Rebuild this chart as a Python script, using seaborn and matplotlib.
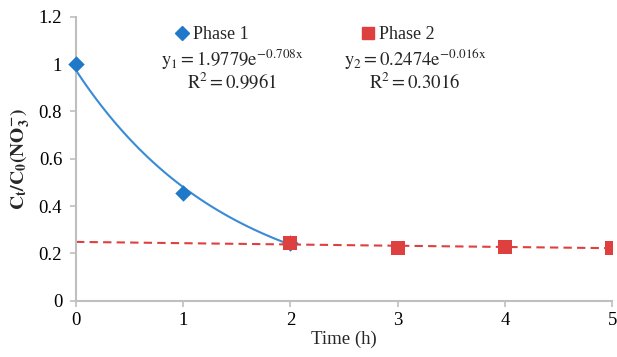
import numpy as np
import pandas as pd
import matplotlib
matplotlib.use("Agg")
import matplotlib.pyplot as plt
from matplotlib.lines import Line2D
import seaborn as sns

# ---- data ----
phase1_time = [0, 1, 2]
phase1_ratio = [1.0, 0.455, 0.243]
phase2_time = [2, 3, 4, 5]
phase2_ratio = [0.243, 0.224, 0.228, 0.224]
eq1_text = r"$\mathrm{y_1 = 1.9779e^{-0.708x}}$"
r2_1_text = r"$\mathrm{R^2 = 0.9961}$"
eq2_text = r"$\mathrm{y_2 = 0.2474e^{-0.016x}}$"
r2_2_text = r"$\mathrm{R^2 = 0.3016}$"
x_ticks = [0, 1, 2, 3, 4, 5]
y_ticks = [0, 0.2, 0.4, 0.6, 0.8, 1.0, 1.2]
y_tick_labels = ["0", "0.2", "0.4", "0.6", "0.8", "1", "1.2"]

sns.set_style("ticks")
plt.rcParams["font.family"] = ["Liberation Serif", "DejaVu Serif"]
plt.rcParams["mathtext.fontset"] = "stix"

blue = "#1F78C8"
blue_line = "#3A8AD6"
red = "#DE4040"
axis_grey = "#BFBFBF"

fig = plt.figure(figsize=(6.17, 3.57), dpi=100)
ax = fig.add_axes([0.1232, 0.1577, 0.992 - 0.1232, 0.953 - 0.1577])

# exponential trendlines fitted from the data
c1 = np.polyfit(phase1_time, np.log(phase1_ratio), 1)
c2 = np.polyfit(phase2_time, np.log(phase2_ratio), 1)
x1 = np.linspace(0, 2, 100)
x2 = np.linspace(0, 5, 200)
trend1 = pd.DataFrame({"t": x1, "y": np.exp(np.polyval(c1, x1))})
trend2 = pd.DataFrame({"t": x2, "y": np.exp(np.polyval(c2, x2))})

sns.lineplot(data=trend1, x="t", y="y", ax=ax, color=blue_line, lw=1.5)
sns.lineplot(data=trend2, x="t", y="y", ax=ax, color=red, lw=1.5,
             linestyle=(0, (4, 2.5)))

d1 = pd.DataFrame({"t": phase1_time, "y": phase1_ratio})
d2 = pd.DataFrame({"t": phase2_time, "y": phase2_ratio})
sns.scatterplot(data=d1, x="t", y="y", ax=ax, marker="D", s=70, color=blue,
                edgecolor=blue, linewidth=0, zorder=5, clip_on=False)
sns.scatterplot(data=d2, x="t", y="y", ax=ax, marker="s", s=90, color=red,
                edgecolor=red, linewidth=0, zorder=5, clip_on=True)

ax.set_xlim(0, 5)
ax.set_ylim(0, 1.2)
ax.set_xticks(x_ticks)
ax.set_yticks(y_ticks)
ax.set_yticklabels(y_tick_labels)
ax.tick_params(axis="both", colors=axis_grey, labelcolor="black",
               labelsize=13.5, length=4, width=1.2, direction="out")
ax.tick_params(axis="x", pad=4)
ax.tick_params(axis="y", pad=6)
for side in ["top", "right"]:
    ax.spines[side].set_visible(False)
for side in ["left", "bottom"]:
    ax.spines[side].set_color(axis_grey)
    ax.spines[side].set_linewidth(1.5)

ax.set_xlabel("Time (h)", fontsize=13.5, labelpad=1)
ax.set_ylabel(r"$\mathbf{C_t/C_0(NO_3^{-})}$", fontsize=14, labelpad=5)

handles = [
    Line2D([], [], marker="D", color=blue, lw=0, markersize=7),
    Line2D([], [], marker="s", color=red, lw=0, markersize=9),
]
ax.legend(handles, ["Phase 1", "Phase 2"], ncol=2, loc="upper left",
          bbox_to_anchor=(0.158, 1.025), frameon=False, fontsize=13,
          handlelength=0.6, handletextpad=0.3, columnspacing=6.3)

ax.text(1.455, 1.018, eq1_text, fontsize=13.5, ha="center", va="center")
ax.text(1.455, 0.922, r2_1_text, fontsize=13.5, ha="center", va="center")
ax.text(3.16, 1.022, eq2_text, fontsize=13.5, ha="center", va="center")
ax.text(3.16, 0.922, r2_2_text, fontsize=13.5, ha="center", va="center")

fig.savefig("out.png", dpi=100)
